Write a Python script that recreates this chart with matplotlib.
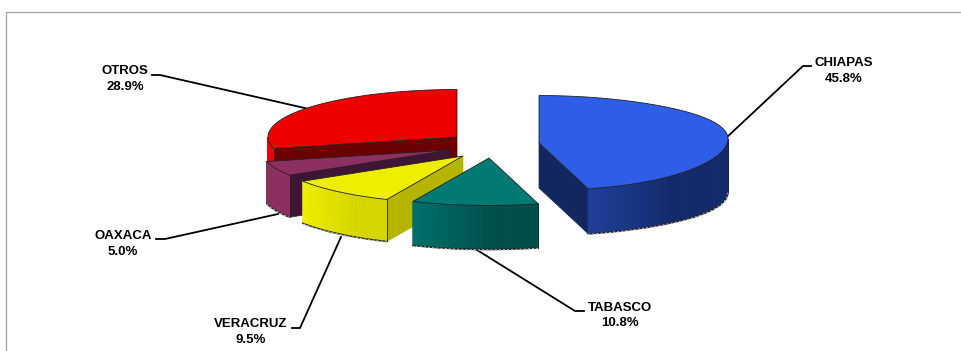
import numpy as np
import matplotlib
matplotlib.use("Agg")
import matplotlib.pyplot as plt
from matplotlib.colors import to_rgb

plt.rcParams['font.family'] = ['Liberation Sans', 'DejaVu Sans']

# Slices, clockwise from 12 o'clock
states = ["CHIAPAS", "TABASCO", "VERACRUZ", "OAXACA", "OTROS"]
shares = [45.8, 10.8, 9.5, 5.0, 28.9]

# Styling per slice
top_colors = ["#2e5ee8", "#007a73", "#eeee00", "#8c3060", "#ee0000"]
cut_colors = ["#12275f", "#004d48", "#b5b500", "#3f1535", "#6b0000"]
wall_left = ["#1f4098", "#00706c", "#eeee00", "#8c3060", "#ee0000"]
wall_right = ["#132a6b", "#004f4a", "#d6d600", "#8c3060", "#ee0000"]

# Layout in pixels: exploded slice apexes, wall depths, label centres, leader lines
apex_x = [539, 489, 463, 450, 457]
apex_y = [143, 158, 156, 150, 137]
depth = [45, 44, 42, 42, 45]
label_x = [843.5, 619.5, 250.5, 123, 125]
label_y = [71, 315.5, 332, 244, 79]
leader_x = [[726, 803, 811], [477, 575, 584], [341, 300, 292], [278, 165, 156], [309, 160, 152]]
leader_y = [[138, 66, 66], [250, 311, 311], [237, 328, 328], [214, 239, 239], [109, 75, 75]]

RX, RY = 189, 47.5


def rim(cx, cy, a0, a1):
    t = np.radians(np.linspace(a0, a1, 60))
    # perspective lifts the far right of the disc a little
    lift = np.clip(np.sin(t), 0, 1) ** 4
    return cx + RX * np.sin(t), cy - RY * np.cos(t) - 4 * lift, lift


def mix(c0, c1, f):
    c0, c1 = np.array(to_rgb(c0)), np.array(to_rgb(c1))
    return tuple(c0 + (c1 - c0) * f)


fig = plt.figure(figsize=(9.61, 3.51), dpi=100)
ax = fig.add_axes([0, 0, 1, 1])
ax.set_xlim(0, 961)
ax.set_ylim(351, 0)
ax.axis("off")

# chart frame
ax.plot([5.5, 5.5, 961], [351, 11.5, 11.5], color="#a8a8a8", lw=1)

starts = np.cumsum([0] + shares[:-1]) * 3.6
ends = np.cumsum(shares) * 3.6

# back slice first so the nearer ones paint over it
for i in [4, 3, 2, 1, 0]:
    cx, cy = apex_x[i], apex_y[i]
    a0, a1 = starts[i], ends[i]
    d = depth[i]
    z = (4 - i) * 3

    # cut face that looks towards the viewer
    for a, show in [(a0, 180 < a0 < 360), (a1, 0 < a1 < 180)]:
        if show:
            ex, ey, _ = rim(cx, cy, a, a)
            ex, ey = ex[0], ey[0]
            ax.fill([cx, ex, ex, cx], [cy, ey, ey + d, cy + d],
                    color=cut_colors[i], lw=0.5, zorder=2 + z)

    # outer wall, front half only, shaded in small strips
    lo, hi = max(a0, 90), min(a1, 270)
    if hi > lo:
        xs, ys, lift = rim(cx, cy, lo, hi)
        bottom = ys + d + 8 * lift
        x_min, x_max = xs.min(), xs.max()
        for j in range(len(xs) - 1):
            f = min(1.0, (0.5 * (xs[j] + xs[j + 1]) - x_min) / (x_max - x_min) * 1.6)
            col = mix(wall_left[i], wall_right[i], f)
            ax.fill([xs[j], xs[j + 1], xs[j + 1], xs[j]],
                    [ys[j], ys[j + 1], bottom[j + 1], bottom[j]],
                    color=col, lw=0.8, zorder=3 + z)
        ax.plot(xs, bottom, color="#222222", lw=1.0, zorder=3 + z)
        ax.plot(xs, bottom + 0.5, color="#b0b0b0", lw=1.0, ls=(0, (1.5, 1.5)), zorder=3 + z)
        ax.plot([xs[0], xs[0]], [ys[0], bottom[0]], color="#222222", lw=0.6, zorder=3 + z)

    # top face
    xs, ys, _ = rim(cx, cy, a0, a1)
    ax.fill(np.r_[cx, xs], np.r_[cy, ys], facecolor=top_colors[i],
            edgecolor="#222222", lw=0.6, zorder=4 + z)

# leader lines and labels
for i in range(len(states)):
    ax.plot(leader_x[i], leader_y[i], color="black", lw=1.3, zorder=1,
            solid_joinstyle="miter")
    ax.text(label_x[i], label_y[i], f"{states[i]}\n{shares[i]:.1f}%", ha="center", va="center",
            fontsize=9.5, fontweight="bold", color="black", linespacing=1.4)

fig.savefig("out.png", dpi=100)
